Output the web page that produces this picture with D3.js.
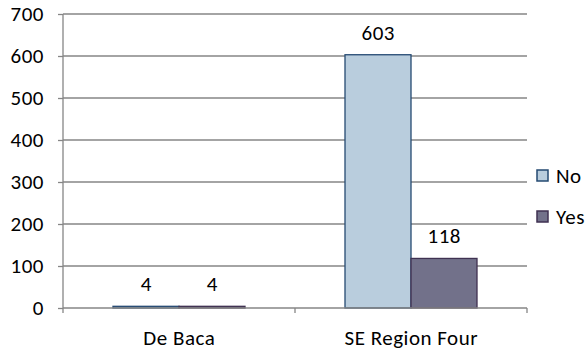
<!DOCTYPE html>
<html>
<head>
<meta charset="utf-8">
<script src="https://cdn.jsdelivr.net/npm/d3@7"></script>
<style>
html,body{margin:0;padding:0;background:#fff;}
svg{display:block;}
text{font-family:Carlito, Calibri, Lato, "Open Sans", sans-serif;fill:#000;letter-spacing:0.5px;}
</style>
</head>
<body>
<svg id="chart" width="585" height="352"></svg>
<script>
const categories = ["De Baca", "SE Region Four"];
const seriesNames = ["No", "Yes"];
const noValues = [4, 603];
const yesValues = [4, 118];
const yTicks = [0, 100, 200, 300, 400, 500, 600, 700];

const colors = {No: {fill: "#B9CDDD", stroke: "#254A72"}, Yes: {fill: "#72718A", stroke: "#3F3151"}};
const data = categories.map((c, i) => ({cat: c, No: noValues[i], Yes: yesValues[i]}));

const svg = d3.select("#chart");
const pLeft = 63, pRight = 527, pTop = 14, pBottom = 308;
const fs = 21;

const y = d3.scaleLinear().domain([0, 700]).range([pBottom, pTop]);
const x0 = d3.scaleBand().domain(categories).range([pLeft, pRight]).padding(0);
const x1 = d3.scaleBand().domain(seriesNames).range([50, x0.bandwidth() - 50]).padding(0);

// gridlines
svg.append("g").selectAll("line").data(yTicks.filter(t => t > 0)).join("line")
  .attr("x1", pLeft).attr("x2", pRight)
  .attr("y1", d => y(d)).attr("y2", d => y(d))
  .attr("stroke", "#868686").attr("stroke-width", 1.3);

// y axis
const yAxis = svg.append("g").attr("transform", `translate(${pLeft},0)`)
  .call(d3.axisLeft(y).tickValues(yTicks).tickSize(5).tickPadding(14).tickFormat(d3.format("d")));
yAxis.attr("font-family", null).attr("font-size", null);
yAxis.select(".domain").attr("stroke", "#868686").attr("stroke-width", 1.3).attr("d", `M0,${pTop}V${pBottom}`);
yAxis.selectAll(".tick line").attr("stroke", "#868686").attr("stroke-width", 1.3);
yAxis.selectAll("text").style("font-size", fs + "px").attr("fill", "#000");

// bars
const groups = svg.append("g").selectAll("g").data(data).join("g")
  .attr("transform", d => `translate(${x0(d.cat)},0)`);
groups.selectAll("rect").data(d => seriesNames.map(s => ({s, v: d[s]}))).join("rect")
  .attr("x", d => x1(d.s)).attr("width", x1.bandwidth())
  .attr("y", d => y(d.v)).attr("height", d => y(0) - y(d.v))
  .attr("fill", d => colors[d.s].fill).attr("stroke", d => colors[d.s].stroke).attr("stroke-width", 1.3);
groups.selectAll("text").data(d => seriesNames.map(s => ({s, v: d[s]}))).join("text")
  .attr("x", d => x1(d.s) + x1.bandwidth() / 2 + 0.3).attr("y", d => y(d.v) - 15)
  .attr("text-anchor", "middle").style("font-size", fs + "px").text(d => d.v);

// x axis
const xAxis = svg.append("g").attr("transform", `translate(0,${pBottom})`);
xAxis.append("line").attr("x1", pLeft).attr("x2", pRight).attr("stroke", "#868686").attr("stroke-width", 1.3);
const bounds = categories.map(c => x0(c)).concat([pRight]);
xAxis.selectAll(".tk").data(bounds).join("line").attr("class", "tk")
  .attr("x1", d => d).attr("x2", d => d).attr("y1", 0).attr("y2", 5)
  .attr("stroke", "#868686").attr("stroke-width", 1.3);
xAxis.selectAll(".lbl").data(categories).join("text").attr("class", "lbl")
  .attr("x", d => x0(d) + x0.bandwidth() / 2 + 0.3).attr("y", 37)
  .attr("text-anchor", "middle").style("font-size", fs + "px").text(d => d);

// legend
const legend = svg.append("g").selectAll("g").data(seriesNames).join("g")
  .attr("transform", (d, i) => `translate(537,${170 + i * 41})`);
legend.append("rect").attr("width", 11).attr("height", 11)
  .attr("fill", d => colors[d].fill).attr("stroke", d => colors[d].stroke).attr("stroke-width", 1.5);
legend.append("text").attr("x", 19).attr("y", 13).style("font-size", fs + "px").text(d => d);
</script>
</body>
</html>
